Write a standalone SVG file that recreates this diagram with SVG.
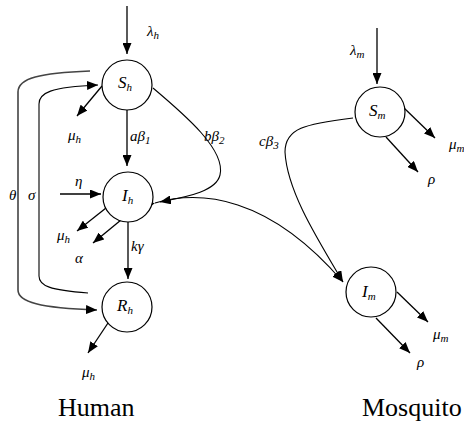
<svg xmlns="http://www.w3.org/2000/svg" width="464" height="423" viewBox="0 0 464 423">
<style>
.node{fill:#fff;stroke:#000;stroke-width:1.2}
.e{fill:none;stroke:#000;stroke-width:1.3;marker-end:url(#ah)}
.c{fill:none;stroke:#000;stroke-width:1.1}
.g{fill:none;stroke:#444;stroke-width:1.6}
.m{font-family:"Liberation Serif",serif;font-style:italic;font-size:15px;fill:#000}
.n{font-family:"Liberation Serif",serif;font-style:italic;font-size:17px;fill:#000}
.s{font-size:11px}
.t{font-family:"Liberation Serif",serif;font-size:26px;fill:#000}
</style>
<defs>
<marker id="ah" markerUnits="userSpaceOnUse" markerWidth="11" markerHeight="9" refX="11" refY="4.5" orient="auto">
<path d="M0,0 L11,4.5 L0,9 z" fill="#000"/>
</marker>
</defs>
<g id="connectors">
<path class="e" d="M127,6 L127,54"/>
<path class="e" d="M102,86 L77,116"/>
<path class="e" d="M127,110 L127,166"/>
<path class="c" d="M153,88 C185,115 226,150 220,175 C216,192 185,197 160,202" marker-end="url(#ah)"/>
<path class="g" d="M90,71 C40,73 18,78 18,92 L18,290 C18,302 40,308 97,310" marker-end="url(#ah)"/>
<path class="c" d="M88,293 C50,290 39,286 39,276 L39,104 C39,93 50,87 98,85" marker-end="url(#ah)"/>
<path class="e" d="M60,194 L101,194"/>
<path class="e" d="M106,208 L77,231"/>
<path class="e" d="M121,220 L93,243"/>
<path class="e" d="M128,222 L128,279"/>
<path class="e" d="M108,323 L88,353"/>
<path class="c" d="M155,203 C200,190 268,195 343,282" marker-start="url(#ah)" marker-end="url(#ah)"/>
<path class="c" d="M353,118 C305,124 285,128 285,152 C287,190 315,235 343,282" marker-end="url(#ah)"/>
<path class="e" d="M377,28 L377,84"/>
<path class="e" d="M403,107 L435,138"/>
<path class="e" d="M386,137 L418,172"/>
<path class="e" d="M397,292 L428,322"/>
<path class="e" d="M376,318 L410,353"/>
</g>
<g id="Sh"><circle class="node" cx="127" cy="85" r="25"/><text class="n" x="118" y="88">S<tspan class="s" dy="3">h</tspan></text></g>
<g id="Ih"><circle class="node" cx="128" cy="197" r="25"/><text class="n" x="122" y="201">I<tspan class="s" dy="3">h</tspan></text></g>
<g id="Rh"><circle class="node" cx="127" cy="307" r="25"/><text class="n" x="117" y="311">R<tspan class="s" dy="3">h</tspan></text></g>
<g id="Sm"><circle class="node" cx="380" cy="112" r="25"/><text class="n" x="369" y="116">S<tspan class="s" dy="3">m</tspan></text></g>
<g id="Im"><circle class="node" cx="371" cy="292" r="25"/><text class="n" x="362" y="297">I<tspan class="s" dy="3">m</tspan></text></g>
<g id="labels">
<text class="m" x="147" y="36">λ<tspan class="s" dy="3">h</tspan></text>
<text class="m" x="68" y="140">μ<tspan class="s" dy="3">h</tspan></text>
<text class="m" x="130" y="141">aβ<tspan class="s" dy="3">1</tspan></text>
<text class="m" x="204" y="141">bβ<tspan class="s" dy="3">2</tspan></text>
<text class="m" x="75" y="186">η</text>
<text class="m" x="9" y="200">θ</text>
<text class="m" x="28" y="200">σ</text>
<text class="m" x="57" y="240">μ<tspan class="s" dy="3">h</tspan></text>
<text class="m" x="75" y="263">α</text>
<text class="m" x="131" y="251">kγ</text>
<text class="m" x="82" y="377">μ<tspan class="s" dy="3">h</tspan></text>
<text class="m" x="350" y="55">λ<tspan class="s" dy="3">m</tspan></text>
<text class="m" x="259" y="146">cβ<tspan class="s" dy="3">3</tspan></text>
<text class="m" x="449" y="149">μ<tspan class="s" dy="3">m</tspan></text>
<text class="m" x="428" y="184">ρ</text>
<text class="m" x="433" y="339">μ<tspan class="s" dy="3">m</tspan></text>
<text class="m" x="417" y="367">ρ</text>
<text class="t" x="58" y="416">Human</text>
<text class="t" x="362" y="416">Mosquito</text>
</g>
</svg>
